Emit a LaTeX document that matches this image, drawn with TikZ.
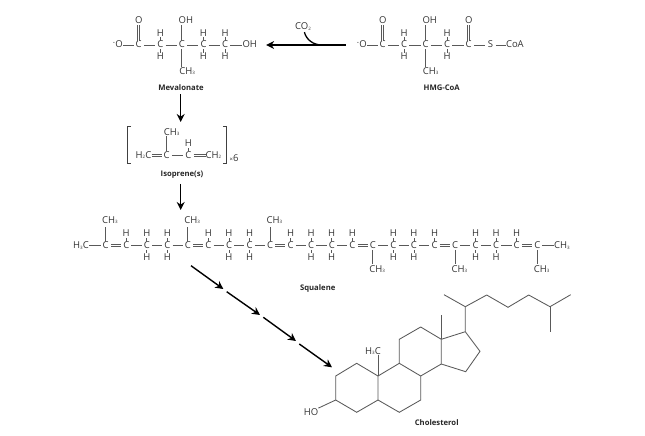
\documentclass[tikz,border=0pt]{standalone}
\usepackage{fontspec}
\setmainfont{Open Sans}
\usepackage{xcolor}
\usepackage{tikz}
\usetikzlibrary{arrows.meta,positioning}
\newcommand{\sbs}[1]{\raisebox{-0.3pt}{\fontsize{4.5}{5}\selectfont #1}}
\newcommand{\chg}{\textsuperscript{-}}
\tikzset{
  atom/.style={inner sep=0pt, minimum width=10pt, text height=7pt, text depth=1pt,
    text=black!80, font=\fontsize{9.5}{9.5}\selectfont},
  title/.style={inner sep=0pt, text=black!85, font=\fontsize{7.7}{7.7}\selectfont\bfseries},
  bond/.style={draw=black!65, line width=0.85pt},
  dbl/.style={double=white, double distance=1.4pt, draw=black!65, line width=0.7pt},
  step arrow/.style={draw=black, line width=1.4pt, -{Stealth[length=8pt,width=8pt]}},
}
\begin{document}
\begin{tikzpicture}[x=1pt, y=-1pt, node distance=3.5pt and 10.15pt]
      \useasboundingbox (0,0) rectangle (645,436);
      % mevalonate
      \node[atom] (m1) at (138.7,45) {C};
      \node[atom] (m2) [right=11.2pt of m1] {C};
      \node[atom] (m3) [right=11.2pt of m2] {C};
      \node[atom] (m4) [right=11.2pt of m3] {C};
      \node[atom] (m5) [right=11.2pt of m4] {C};
      \node[atom] (mneg) [left=10.5pt of m1] {\chg O};
      \node[atom] (moh) [right=12pt of m5] {OH};
      \node[atom] (mo) [above=16pt of m1] {O};
      \node[atom] (mtop) [above=16pt of m3, xshift=4pt] {OH};
      \node[atom] (mme) [below=18pt of m3, xshift=5.3pt] {CH\sbs{3}};
      \node[atom] (m2a) [above=of m2] {H};
      \node[atom] (m2b) [below=of m2] {H};
      \node[atom] (m4a) [above=of m4] {H};
      \node[atom] (m4b) [below=of m4] {H};
      \node[atom] (m5a) [above=of m5] {H};
      \node[atom] (m5b) [below=of m5] {H};
      \node[title] (lmev) at (181,88) {Mevalonate};
      \path[bond]
      (mneg) edge (m1)
      (m1) edge (m2)
      (m2) edge (m3)
      (m3) edge (m4)
      (m4) edge (m5)
      (m5) edge (moh)
      (m3) edge (mtop.south -| m3)
      (m3) edge (mme.north -| m3)
      (m2) edge (m2a) (m2) edge (m2b)
      (m4) edge (m4a) (m4) edge (m4b)
      (m5) edge (m5a) (m5) edge (m5b)
      (m1) edge [dbl] (mo);
      % HMG-CoA
      \node[atom] (h1) at (382.7,45) {C};
      \node[atom] (h2) [right=11.1pt of h1] {C};
      \node[atom] (h3) [right=11.1pt of h2] {C};
      \node[atom] (h4) [right=11.1pt of h3] {C};
      \node[atom] (h5) [right=11.1pt of h4] {C};
      \node[atom] (hneg) [left=10.5pt of h1] {\chg O};
      \node[atom] (hs) [right=11.5pt of h5] {S};
      \node[atom] (hcoa) [right=10pt of hs] {CoA};
      \node[atom] (ho1) [above=16pt of h1] {O};
      \node[atom] (ho5) [above=16pt of h5] {O};
      \node[atom] (htop) [above=16pt of h3, xshift=4pt] {OH};
      \node[atom] (hme) [below=18pt of h3, xshift=5pt] {CH\sbs{3}};
      \node[atom] (h2a) [above=of h2] {H};
      \node[atom] (h2b) [below=of h2] {H};
      \node[atom] (h4a) [above=of h4] {H};
      \node[atom] (h4b) [below=of h4] {H};
      \node[title] (lhmg) at (441.7,88) {HMG-CoA};
      \path[bond]
      (hneg) edge (h1)
      (h1) edge (h2)
      (h2) edge (h3)
      (h3) edge (h4)
      (h4) edge (h5)
      (h5) edge (hs)
      (hs) edge (hcoa)
      (h3) edge (htop.south -| h3)
      (h3) edge (hme.north -| h3)
      (h2) edge (h2a) (h2) edge (h2b)
      (h4) edge (h4a) (h4) edge (h4b)
      (h1) edge [dbl] (ho1)
      (h5) edge [dbl] (ho5);
      % reduction step
      \node[atom] (co) at (303,27) {CO\sbs{2}};
      \coordinate (cojoin) at (322,45);
      \path (hneg) edge [step arrow, shorten <=11pt, shorten >=9pt] (moh);
      \path (co) edge [draw=black, line width=1.3pt, out=-75, in=180, shorten <=1pt] (cojoin);
      % isoprene
      \node[atom] (i1) at (166.7,155.4) {C};
      \node[atom] (i2) [right=11.2pt of i1] {C};
      \node[atom] (ih2c) [left=10pt of i1] {H\sbs{2}C};
      \node[atom] (ich2) [right=12pt of i2] {CH\sbs{2}};
      \node[atom] (ime) [above=15pt of i1, xshift=5pt] {CH\sbs{3}};
      \node[atom] (ih) [above=of i2] {H};
      \node[atom] (ix) at (234,158) {\fontsize{6}{6}\selectfont ×\fontsize{9.5}{9.5}\selectfont 6};
      \node[title] (liso) at (182,175) {Isoprene(s)};
      \path[bond]
      (ih2c) edge [dbl] (i1)
      (i2) edge [dbl] (ich2)
      (i1) edge (ime.south -| i1)
      (i2) edge (ih);
      \draw[bond] (i1.east) -- (i2.west);
      \draw[line width=0.9pt, black!75] (131,126) -- (127,126) -- (127,163) -- (131,163);
      \draw[line width=0.9pt, black!75] (223,126) -- (226.7,126) -- (226.7,163) -- (223,163);
      \coordinate (tomid) at (180.7,122);
      \coordinate (tosq) at (180.7,210);
      \path
      (lmev.south -| tomid) edge [step arrow, shorten <=3pt] (tomid)
      (liso.south -| tosq) edge [step arrow, shorten <=5pt] (tosq);
      % squalene
      \node[atom] (s0) at (105.7,245.7) {C};
      \node[atom] (s1) [right=of s0] {C};
      \node[atom] (s2) [right=of s1] {C};
      \node[atom] (s3) [right=of s2] {C};
      \node[atom] (s4) [right=of s3] {C};
      \node[atom] (s5) [right=of s4] {C};
      \node[atom] (s6) [right=of s5] {C};
      \node[atom] (s7) [right=of s6] {C};
      \node[atom] (s8) [right=of s7] {C};
      \node[atom] (s9) [right=of s8] {C};
      \node[atom] (s10) [right=of s9] {C};
      \node[atom] (s11) [right=of s10] {C};
      \node[atom] (s12) [right=of s11] {C};
      \node[atom] (s13) [right=of s12] {C};
      \node[atom] (s14) [right=of s13] {C};
      \node[atom] (s15) [right=of s14] {C};
      \node[atom] (s16) [right=of s15] {C};
      \node[atom] (s17) [right=of s16] {C};
      \node[atom] (s18) [right=of s17] {C};
      \node[atom] (s19) [right=of s18] {C};
      \node[atom] (s20) [right=of s19] {C};
      \node[atom] (s21) [right=of s20] {C};
      \node[atom] (sh3c) [left=11.5pt of s0] {H\sbs{3}C};
      \node[atom] (sch3) [right=11.5pt of s21] {CH\sbs{3}};
      \node[atom] (s0m) [above=17pt of s0, xshift=4.3pt] {CH\sbs{3}};
      \node[atom] (s4m) [above=17pt of s4, xshift=4.3pt] {CH\sbs{3}};
      \node[atom] (s8m) [above=17pt of s8, xshift=4.3pt] {CH\sbs{3}};
      \node[atom] (s13m) [below=15.5pt of s13, xshift=4.3pt] {CH\sbs{3}};
      \node[atom] (s17m) [below=15.5pt of s17, xshift=4.3pt] {CH\sbs{3}};
      \node[atom] (s21m) [below=15.5pt of s21, xshift=4.3pt] {CH\sbs{3}};
      \node[atom] (s1a) [above=of s1] {H};
      \node[atom] (s2a) [above=of s2] {H};
      \node[atom] (s2b) [below=of s2] {H};
      \node[atom] (s3a) [above=of s3] {H};
      \node[atom] (s3b) [below=of s3] {H};
      \node[atom] (s5a) [above=of s5] {H};
      \node[atom] (s6a) [above=of s6] {H};
      \node[atom] (s6b) [below=of s6] {H};
      \node[atom] (s7a) [above=of s7] {H};
      \node[atom] (s7b) [below=of s7] {H};
      \node[atom] (s9a) [above=of s9] {H};
      \node[atom] (s10a) [above=of s10] {H};
      \node[atom] (s10b) [below=of s10] {H};
      \node[atom] (s11a) [above=of s11] {H};
      \node[atom] (s11b) [below=of s11] {H};
      \node[atom] (s12a) [above=of s12] {H};
      \node[atom] (s14a) [above=of s14] {H};
      \node[atom] (s14b) [below=of s14] {H};
      \node[atom] (s15a) [above=of s15] {H};
      \node[atom] (s15b) [below=of s15] {H};
      \node[atom] (s16a) [above=of s16] {H};
      \node[atom] (s18a) [above=of s18] {H};
      \node[atom] (s18b) [below=of s18] {H};
      \node[atom] (s19a) [above=of s19] {H};
      \node[atom] (s19b) [below=of s19] {H};
      \node[atom] (s20a) [above=of s20] {H};
      \node[title] (lsq) at (317.7,288.7) {Squalene};
      \path[bond]
      (sh3c) edge (s0)
      (s1) edge (s2)
      (s2) edge (s3)
      (s3) edge (s4)
      (s5) edge (s6)
      (s6) edge (s7)
      (s7) edge (s8)
      (s9) edge (s10)
      (s10) edge (s11)
      (s11) edge (s12)
      (s13) edge (s14)
      (s14) edge (s15)
      (s15) edge (s16)
      (s17) edge (s18)
      (s18) edge (s19)
      (s19) edge (s20)
      (s21) edge (sch3)
      (s0) edge [shorten >=2pt] (s0m.south -| s0)
      (s4) edge [shorten >=2pt] (s4m.south -| s4)
      (s8) edge [shorten >=2pt] (s8m.south -| s8)
      (s13) edge [shorten >=1.5pt] (s13m.north -| s13)
      (s17) edge [shorten >=1.5pt] (s17m.north -| s17)
      (s21) edge [shorten >=1.5pt] (s21m.north -| s21)
      (s1) edge (s1a)
      (s2) edge (s2a) (s2) edge (s2b)
      (s3) edge (s3a) (s3) edge (s3b)
      (s5) edge (s5a)
      (s6) edge (s6a) (s6) edge (s6b)
      (s7) edge (s7a) (s7) edge (s7b)
      (s9) edge (s9a)
      (s10) edge (s10a) (s10) edge (s10b)
      (s11) edge (s11a) (s11) edge (s11b)
      (s12) edge (s12a)
      (s14) edge (s14a) (s14) edge (s14b)
      (s15) edge (s15a) (s15) edge (s15b)
      (s16) edge (s16a)
      (s18) edge (s18a) (s18) edge (s18b)
      (s19) edge (s19a) (s19) edge (s19b)
      (s20) edge (s20a)
      (s0) edge [dbl] (s1)
      (s4) edge [dbl] (s5)
      (s8) edge [dbl] (s9)
      (s12) edge [dbl] (s13)
      (s16) edge [dbl] (s17)
      (s20) edge [dbl] (s21);
      % cyclisation steps
      \coordinate (w0) at (191,265.7);
      \coordinate (w1) at (223.3,289);
      \coordinate (w2) at (226.7,291.7);
      \coordinate (w3) at (260,315);
      \coordinate (w4) at (263.3,317.3);
      \coordinate (w5) at (296,341);
      \coordinate (w6) at (299.3,344);
      \coordinate (w7) at (332,367.3);
      \path
      (w0) edge [step arrow] (w1)
      (w2) edge [step arrow] (w3)
      (w4) edge [step arrow] (w5)
      (w6) edge [step arrow] (w7);
      % cholesterol
      \coordinate (a1) at (335.7,376);
      \coordinate (a2) at (356.7,363.3);
      \coordinate (a3) at (378,376);
      \coordinate (a4) at (378,400);
      \coordinate (a5) at (356.7,412.3);
      \coordinate (a6) at (335.7,400);
      \coordinate (b1) at (399.3,363.3);
      \coordinate (b2) at (420.7,376);
      \coordinate (b3) at (420.7,400);
      \coordinate (b4) at (399.3,412.3);
      \coordinate (c1) at (399.3,339.3);
      \coordinate (c2) at (420.7,327);
      \coordinate (c3) at (441.3,339.3);
      \coordinate (c4) at (441.3,364);
      \coordinate (d1) at (465.3,331.7);
      \coordinate (d2) at (480,351.3);
      \coordinate (d3) at (465.7,371.7);
      \coordinate (cme) at (441.3,315);
      \coordinate (e0) at (444,294.7);
      \coordinate (e1) at (465.3,306.7);
      \coordinate (e2) at (486.7,295);
      \coordinate (e3) at (508,307.3);
      \coordinate (e4) at (528.7,295);
      \coordinate (e5) at (550,306.7);
      \coordinate (e6) at (570.7,294.7);
      \coordinate (e7) at (550,331.7);
      \node[atom] (cho) at (311,412.3) {HO};
      \node[atom] (ch3c) at (373,351) {H\sbs{3}C};
      \node[title] (lcho) at (436.7,422.3) {Cholesterol};
      \draw[bond] (a1) -- (a2) -- (a3) -- (a4) -- (a5) -- (a6) -- cycle;
      \draw[bond] (a3) -- (b1) -- (b2) -- (b3) -- (b4) -- (a4);
      \draw[bond] (b1) -- (c1) -- (c2) -- (c3) -- (c4) -- (b2);
      \draw[bond] (c3) -- (d1) -- (d2) -- (d3) -- (c4);
      \draw[bond] (c3) -- (cme);
      \draw[bond] (a3) -- (ch3c.south -| a3);
      \draw[bond] (a6) -- (cho.north east);
      \draw[bond] (d1) -- (e1) -- (e0);
      \draw[bond] (e1) -- (e2) -- (e3) -- (e4) -- (e5) -- (e6);
      \draw[bond] (e5) -- (e7);
\end{tikzpicture}
\end{document}
